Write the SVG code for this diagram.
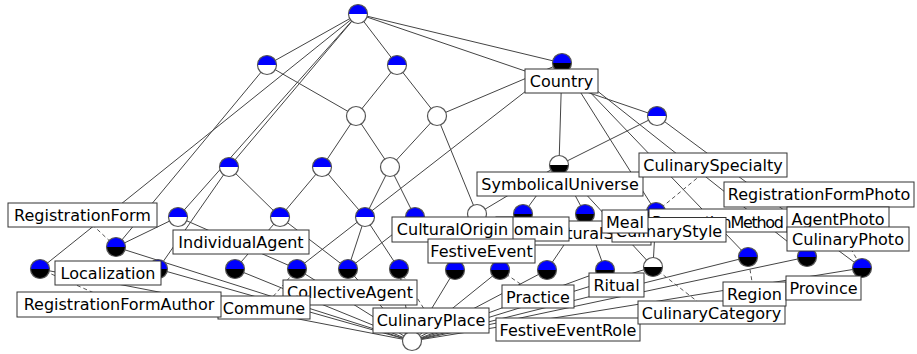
<svg xmlns="http://www.w3.org/2000/svg" xmlns:xlink="http://www.w3.org/1999/xlink" width="917" height="354" viewBox="0 0 917 354">
<style>
.e{stroke:#444;stroke-width:1;fill:none}
.d{stroke:#555;stroke-width:1;stroke-dasharray:4 3;fill:none}
.b{fill:#fff;stroke:#333;stroke-width:1}
.t{font-family:'DejaVu Sans',sans-serif;font-size:16px;fill:#000;text-anchor:middle}
.ring{fill:none;stroke:#555;stroke-width:1.2}
</style>
<defs>
<g id="nBW"><path d="M-9.5,0A9.5,9.5 0 0 1 9.5,0Z" fill="#0000ff"/><path d="M-9.5,0A9.5,9.5 0 0 0 9.5,0Z" fill="#fff"/><circle r="9.5" class="ring"/></g>
<g id="nBK"><path d="M-9.5,0A9.5,9.5 0 0 1 9.5,0Z" fill="#0000ff"/><path d="M-9.5,0A9.5,9.5 0 0 0 9.5,0Z" fill="#000"/><circle r="9.5" class="ring"/></g>
<g id="nWK"><path d="M-9.5,0A9.5,9.5 0 0 1 9.5,0Z" fill="#fff"/><path d="M-9.5,0A9.5,9.5 0 0 0 9.5,0Z" fill="#000"/><circle r="9.5" class="ring"/></g>
<g id="nW"><circle r="9.5" fill="#fff" stroke="#555" stroke-width="1.2"/></g>
</defs>
<g id="edges">
<line class="e" x1="358" y1="14" x2="267" y2="65"/>
<line class="e" x1="358" y1="14" x2="397" y2="65"/>
<line class="e" x1="358" y1="14" x2="562" y2="63"/>
<line class="e" x1="358" y1="14" x2="657" y2="116"/>
<line class="e" x1="358" y1="14" x2="40" y2="269"/>
<line class="e" x1="358" y1="14" x2="229" y2="167"/>
<line class="e" x1="358" y1="14" x2="178" y2="217"/>
<line class="e" x1="267" y1="65" x2="356" y2="116"/>
<line class="e" x1="267" y1="65" x2="116" y2="247"/>
<line class="e" x1="397" y1="65" x2="356" y2="116"/>
<line class="e" x1="397" y1="65" x2="437" y2="116"/>
<line class="e" x1="562" y1="63" x2="437" y2="116"/>
<line class="e" x1="562" y1="63" x2="297" y2="269"/>
<line class="e" x1="562" y1="63" x2="559" y2="165"/>
<line class="e" x1="562" y1="63" x2="656" y2="212"/>
<line class="e" x1="562" y1="63" x2="748" y2="257"/>
<line class="e" x1="562" y1="63" x2="807" y2="257"/>
<line class="e" x1="356" y1="116" x2="322" y2="167"/>
<line class="e" x1="356" y1="116" x2="390" y2="167"/>
<line class="e" x1="437" y1="116" x2="390" y2="167"/>
<line class="e" x1="437" y1="116" x2="477" y2="214"/>
<line class="e" x1="657" y1="116" x2="559" y2="165"/>
<line class="e" x1="657" y1="116" x2="862" y2="268"/>
<line class="e" x1="229" y1="167" x2="280" y2="217"/>
<line class="e" x1="229" y1="167" x2="158" y2="269"/>
<line class="e" x1="322" y1="167" x2="280" y2="217"/>
<line class="e" x1="322" y1="167" x2="365" y2="217"/>
<line class="e" x1="390" y1="167" x2="365" y2="217"/>
<line class="e" x1="390" y1="167" x2="415" y2="217"/>
<line class="e" x1="559" y1="165" x2="477" y2="214"/>
<line class="e" x1="559" y1="165" x2="523" y2="214"/>
<line class="e" x1="559" y1="165" x2="585" y2="214"/>
<line class="e" x1="559" y1="165" x2="653" y2="267"/>
<line class="e" x1="178" y1="217" x2="116" y2="247"/>
<line class="e" x1="178" y1="217" x2="297" y2="269"/>
<line class="e" x1="280" y1="217" x2="235" y2="269"/>
<line class="e" x1="280" y1="217" x2="348" y2="269"/>
<line class="e" x1="365" y1="217" x2="348" y2="269"/>
<line class="e" x1="365" y1="217" x2="399" y2="269"/>
<line class="e" x1="415" y1="217" x2="348" y2="269"/>
<line class="e" x1="477" y1="214" x2="455" y2="270"/>
<line class="e" x1="523" y1="214" x2="500" y2="270"/>
<line class="e" x1="585" y1="214" x2="547" y2="270"/>
<line class="e" x1="585" y1="214" x2="605" y2="270"/>
<line class="e" x1="656" y1="212" x2="653" y2="267"/>
<line class="e" x1="412" y1="341" x2="116" y2="247"/>
<line class="e" x1="412" y1="341" x2="40" y2="269"/>
<line class="e" x1="412" y1="341" x2="158" y2="269"/>
<line class="e" x1="412" y1="341" x2="235" y2="269"/>
<line class="e" x1="412" y1="341" x2="297" y2="269"/>
<line class="e" x1="412" y1="341" x2="348" y2="269"/>
<line class="e" x1="412" y1="341" x2="399" y2="269"/>
<line class="e" x1="412" y1="341" x2="455" y2="270"/>
<line class="e" x1="412" y1="341" x2="500" y2="270"/>
<line class="e" x1="412" y1="341" x2="547" y2="270"/>
<line class="e" x1="412" y1="341" x2="605" y2="270"/>
<line class="e" x1="412" y1="341" x2="653" y2="267"/>
<line class="e" x1="412" y1="341" x2="748" y2="257"/>
<line class="e" x1="412" y1="341" x2="807" y2="257"/>
<line class="e" x1="412" y1="341" x2="862" y2="268"/>
<line class="d" x1="82" y1="215" x2="116" y2="247"/>
<line class="d" x1="119" y1="304" x2="40" y2="269"/>
<line class="d" x1="264" y1="307" x2="297" y2="269"/>
<line class="d" x1="431" y1="320" x2="399" y2="269"/>
<line class="d" x1="538" y1="296" x2="500" y2="270"/>
<line class="d" x1="711" y1="312" x2="653" y2="267"/>
<line class="d" x1="754" y1="294" x2="748" y2="257"/>
<line class="d" x1="819" y1="194" x2="862" y2="268"/>
<line class="d" x1="713" y1="165" x2="656" y2="212"/>
</g>
<g id="node-top"><use href="#nBW" x="358" y="14"/></g>
<g id="node-A"><use href="#nBW" x="267" y="65"/></g>
<g id="node-B"><use href="#nBW" x="397" y="65"/></g>
<g id="node-Country"><use href="#nBK" x="562" y="63"/></g>
<g id="node-C"><use href="#nW" x="356" y="116"/></g>
<g id="node-D"><use href="#nW" x="437" y="116"/></g>
<g id="node-H"><use href="#nBW" x="657" y="116"/></g>
<g id="node-E"><use href="#nBW" x="229" y="167"/></g>
<g id="node-F"><use href="#nBW" x="322" y="167"/></g>
<g id="node-G"><use href="#nW" x="390" y="167"/></g>
<g id="node-SymbolicalUniverse"><use href="#nWK" x="559" y="165"/></g>
<g id="node-J"><use href="#nBW" x="178" y="217"/></g>
<g id="node-K"><use href="#nBW" x="280" y="217"/></g>
<g id="node-L"><use href="#nBW" x="365" y="217"/></g>
<g id="node-M"><use href="#nBK" x="415" y="217"/></g>
<g id="node-CulturalOrigin"><use href="#nW" x="477" y="214"/></g>
<g id="node-Domain"><use href="#nBK" x="523" y="214"/></g>
<g id="node-CulturalStyle"><use href="#nBK" x="585" y="214"/></g>
<g id="node-CulinarySpecialty"><use href="#nBK" x="656" y="212"/></g>
<g id="node-RegistrationForm"><use href="#nBK" x="116" y="247"/></g>
<g id="node-O"><use href="#nBK" x="40" y="269"/></g>
<g id="node-Localization"><use href="#nBK" x="158" y="269"/></g>
<g id="node-Q"><use href="#nBK" x="235" y="269"/></g>
<g id="node-R"><use href="#nBK" x="297" y="269"/></g>
<g id="node-CollectiveAgent"><use href="#nBK" x="348" y="269"/></g>
<g id="node-CulinaryPlace"><use href="#nBK" x="399" y="269"/></g>
<g id="node-U"><use href="#nBK" x="455" y="270"/></g>
<g id="node-Practice"><use href="#nBK" x="500" y="270"/></g>
<g id="node-W"><use href="#nBK" x="547" y="270"/></g>
<g id="node-Ritual"><use href="#nBK" x="605" y="270"/></g>
<g id="node-CulinaryCategory"><use href="#nWK" x="653" y="267"/></g>
<g id="node-Region"><use href="#nBK" x="748" y="257"/></g>
<g id="node-AA"><use href="#nBK" x="807" y="257"/></g>
<g id="node-RegistrationFormPhoto"><use href="#nBK" x="862" y="268"/></g>
<g id="node-bottom"><use href="#nW" x="412" y="341"/></g>
<g id="labels">
<g id="lbl-SymbolicalUniverse"><rect class="b" x="477" y="172" width="166" height="24"/><text class="t" x="560" y="190">SymbolicalUniverse</text></g>
<g id="lbl-CulinarySpecialty"><rect class="b" x="639" y="153" width="148" height="24"/><text class="t" x="713" y="171">CulinarySpecialty</text></g>
<g id="lbl-Country"><rect class="b" x="525" y="69" width="73" height="24"/><text class="t" x="561.5" y="87">Country</text></g>
<g id="lbl-RegistrationFormPhoto"><rect class="b" x="724" y="182" width="190" height="25"/><text class="t" x="819" y="200">RegistrationFormPhoto</text></g>
<g id="lbl-CulturalStyle"><rect class="b" x="533" y="221" width="118" height="24"/><text class="t" x="592" y="239">CulturalStyle</text></g>
<g id="lbl-Domain"><rect class="b" x="496" y="217" width="73" height="24"/><text class="t" x="532.5" y="235">Domain</text></g>
<g id="lbl-CulturalOrigin"><rect class="b" x="392" y="217" width="121" height="25"/><text class="t" x="452.5" y="235">CulturalOrigin</text></g>
<g id="lbl-FestiveEvent"><rect class="b" x="428" y="239" width="107" height="24"/><text class="t" x="481.5" y="257">FestiveEvent</text></g>
<g id="lbl-PreparationMethod"><rect class="b" x="649" y="209" width="150" height="23"/><text class="t" x="652" y="227.5" style="text-anchor:start" textLength="132" lengthAdjust="spacing">PreparationMethod</text></g>
<g id="lbl-AgentPhoto"><rect class="b" x="787" y="207" width="102" height="25"/><text class="t" x="838" y="225">AgentPhoto</text></g>
<g id="lbl-CulinaryPhoto"><rect class="b" x="787" y="227" width="122" height="24"/><text class="t" x="848" y="245">CulinaryPhoto</text></g>
<g id="lbl-CulinaryStyle"><rect class="b" x="612" y="217.5" width="114" height="24.5"/><text class="t" x="669" y="236.5">CulinaryStyle</text></g>
<g id="lbl-Meal"><rect class="b" x="602" y="210" width="46" height="23"/><text class="t" x="625" y="227.5">Meal</text></g>
<g id="lbl-Ritual"><rect class="b" x="589" y="273" width="55" height="24"/><text class="t" x="616.5" y="291">Ritual</text></g>
<g id="lbl-Practice"><rect class="b" x="502" y="285" width="72" height="23"/><text class="t" x="538" y="302.5">Practice</text></g>
<g id="lbl-FestiveEventRole"><rect class="b" x="496" y="318" width="144" height="23"/><text class="t" x="568" y="335.5">FestiveEventRole</text></g>
<g id="lbl-CulinaryCategory"><rect class="b" x="638" y="301" width="147" height="23"/><text class="t" x="711.5" y="318.5">CulinaryCategory</text></g>
<g id="lbl-Region"><rect class="b" x="723" y="282" width="63" height="24"/><text class="t" x="754.5" y="300">Region</text></g>
<g id="lbl-Province"><rect class="b" x="786" y="276" width="75" height="24"/><text class="t" x="823.5" y="294">Province</text></g>
<g id="lbl-CollectiveAgent"><rect class="b" x="283" y="280" width="134" height="25"/><text class="t" x="350" y="298">CollectiveAgent</text></g>
<g id="lbl-CulinaryPlace"><rect class="b" x="373" y="308" width="116" height="25"/><text class="t" x="431" y="326">CulinaryPlace</text></g>
<g id="lbl-Commune"><rect class="b" x="218" y="296" width="92" height="23"/><text class="t" x="264" y="313.5">Commune</text></g>
<g id="lbl-RegistrationFormAuthor"><rect class="b" x="17" y="292" width="204" height="25"/><text class="t" x="119" y="310">RegistrationFormAuthor</text></g>
<g id="lbl-Localization"><rect class="b" x="55" y="261" width="106" height="24"/><text class="t" x="108" y="279">Localization</text></g>
<g id="lbl-IndividualAgent"><rect class="b" x="173" y="230" width="136" height="24"/><text class="t" x="241" y="248">IndividualAgent</text></g>
<g id="lbl-RegistrationForm"><rect class="b" x="8" y="203" width="149" height="24"/><text class="t" x="82.5" y="221">RegistrationForm</text></g>
</g>
</svg>
